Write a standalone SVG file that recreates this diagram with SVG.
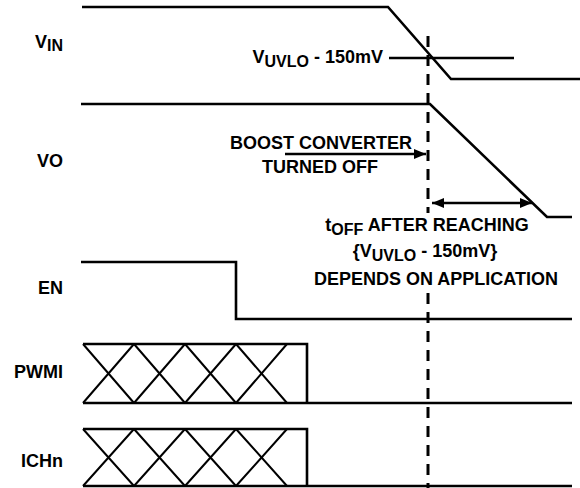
<svg xmlns="http://www.w3.org/2000/svg" width="580" height="488" viewBox="0 0 580 488">
<defs>
<style>
.t{font-family:"Liberation Sans",Arial,Helvetica,sans-serif;font-weight:bold;font-size:18px;fill:#000}
.s{font-size:16px}
.w{fill:none;stroke:#000;stroke-width:2.6;stroke-linejoin:miter;stroke-linecap:butt}
.x{fill:none;stroke:#000;stroke-width:2}
.d{fill:none;stroke:#000;stroke-width:3;stroke-dasharray:11 8}
.a{fill:none;stroke:#000;stroke-width:2.6}
</style>
<marker id="ah" viewBox="0 0 12 10" refX="12" refY="5" markerWidth="12" markerHeight="10" markerUnits="userSpaceOnUse" orient="auto-start-reverse">
<path d="M0,0 L12,5 L0,10 Z" fill="#000"/>
</marker>
</defs>
<rect width="580" height="488" fill="#fff"/>

<g id="vin">
<text class="t" x="63" y="48" text-anchor="end">V<tspan class="s" dy="3">IN</tspan></text>
<polyline class="w" points="82,7 388,7 451,79 580,79"/>
<line class="w" x1="389" y1="58" x2="514" y2="58"/>
<text class="t" x="383" y="63" text-anchor="end">V<tspan class="s" dy="4">UVLO</tspan><tspan dy="-4"> - 150mV</tspan></text>
</g>

<g id="vo">
<text class="t" x="63" y="167" text-anchor="end">VO</text>
<polyline class="w" points="81,104 430,104 547,217 572,217"/>
</g>

<g id="en">
<text class="t" x="63" y="294" text-anchor="end">EN</text>
<polyline class="w" points="81,262 236,262 236,319 572,319"/>
</g>

<g id="pwmi">
<text class="t" x="63" y="378" text-anchor="end">PWMI</text>
<polyline class="w" points="83,344 307,344 307,403"/>
<line class="w" x1="83" y1="403" x2="572" y2="403"/>
<path class="x" d="M83,403 L134,344 M83,344 L134,403 M134,403 L185,344 M134,344 L185,403 M185,403 L236,344 M185,344 L236,403 M236,403 L287,344 M236,344 L287,403"/>
</g>

<g id="ichn">
<text class="t" x="63" y="467" text-anchor="end">ICHn</text>
<polyline class="w" points="83,429 307,429 307,486"/>
<line class="w" x1="83" y1="486" x2="572" y2="486"/>
<path class="x" d="M83,486 L134,429 M83,429 L134,486 M134,486 L185,429 M134,429 L185,486 M185,486 L236,429 M185,429 L236,486 M236,486 L287,429 M236,429 L287,486"/>
</g>

<g id="boost-label">
<text class="t" x="321" y="149" text-anchor="middle">BOOST CONVERTER</text>
<text class="t" x="320" y="173" text-anchor="middle">TURNED OFF</text>
</g>

<g id="toff-label">
<text class="t" x="427" y="231" text-anchor="middle">t<tspan class="s" dy="4">OFF</tspan><tspan dy="-4"> AFTER REACHING</tspan></text>
<text class="t" x="425" y="257" text-anchor="middle">{V<tspan class="s" dy="4">UVLO</tspan><tspan dy="-4"> - 150mV}</tspan></text>
<text class="t" x="436" y="285" text-anchor="middle">DEPENDS ON APPLICATION</text>
</g>

<g id="connectors">
<line class="d" x1="428" y1="36" x2="428" y2="213"/>
<line class="d" x1="428" y1="293" x2="428" y2="488"/>
<line class="a" x1="285" y1="154" x2="426" y2="154" marker-end="url(#ah)"/>
<line class="a" x1="432" y1="203" x2="532" y2="203" marker-start="url(#ah)" marker-end="url(#ah)"/>
</g>
</svg>
